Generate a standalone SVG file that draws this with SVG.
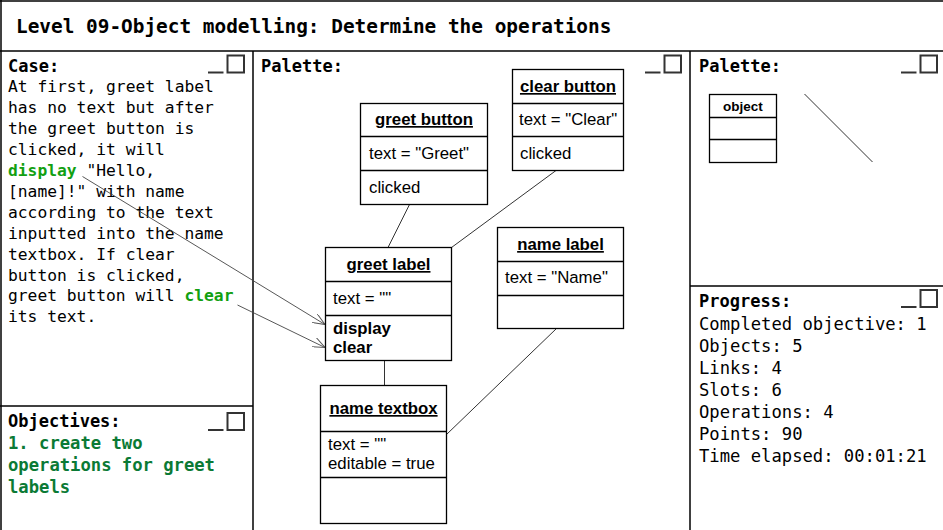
<svg xmlns="http://www.w3.org/2000/svg" xmlns:xlink="http://www.w3.org/1999/xlink" width="943" height="530" viewBox="0 0 943 530">
<style>
.frame{fill:none;stroke:#000;stroke-width:1.5}
.mono{font-family:"DejaVu Sans Mono","Liberation Mono",monospace;fill:#000}
.title{font-size:19.4px;font-weight:bold}
.head{font-size:17px;font-weight:bold}
.case{font-size:16.3px}
.prog{font-size:17.2px}
.obj{font-size:17.2px;font-weight:bold;fill:#0b7a35}
.hl{font-weight:bold;fill:#12a012}
.box{fill:#fff;stroke:#000;stroke-width:1.3}
.div{stroke:#000;stroke-width:1.3}
.sans{font-family:"Liberation Sans",Arial,sans-serif;font-size:16.8px;fill:#000}
.bt{font-weight:bold;text-decoration:underline}
.b{font-weight:bold}
.link{stroke:#333;stroke-width:1;fill:none}
.arrow{stroke:#444;stroke-width:0.9;fill:none}
.icon{fill:none;stroke:#333;stroke-width:2}
</style>
<defs>
<marker id="open" viewBox="0 0 12 10" refX="12" refY="5" markerWidth="12" markerHeight="10" markerUnits="userSpaceOnUse" orient="auto">
<path d="M0,0 L12,5 L0,10" fill="none" stroke="#555" stroke-width="1"/>
</marker>
<g id="minmax">
<line x1="-45" y1="17" x2="-29.5" y2="17" class="icon"/>
<rect x="-25.5" y="0" width="16.5" height="17" class="icon"/>
</g>
</defs>
<rect width="943" height="530" fill="#fff"/>
<g id="frames">
<line x1="0" y1="1" x2="943" y2="1" class="frame"/>
<line x1="1" y1="0" x2="1" y2="530" class="frame"/>
<line x1="0" y1="51" x2="943" y2="51" class="frame"/>
<line x1="253" y1="51" x2="253" y2="530" class="frame"/>
<line x1="690" y1="51" x2="690" y2="530" class="frame"/>
<line x1="0" y1="406" x2="253" y2="406" class="frame"/>
<line x1="690" y1="286" x2="943" y2="286" class="frame"/>
</g>
<text x="16" y="33" class="mono title">Level 09-Object modelling: Determine the operations</text>
<g id="case-panel">
<text x="8" y="72" class="mono head">Case:</text>
<use xlink:href="#minmax" x="253" y="55.5"/>
<text class="mono case">
<tspan x="8" y="92">At first, greet label</tspan>
<tspan x="8" y="113">has no text but after</tspan>
<tspan x="8" y="134">the greet button is</tspan>
<tspan x="8" y="155">clicked, it will</tspan>
<tspan x="8" y="176"><tspan class="hl">display</tspan> "Hello,</tspan>
<tspan x="8" y="197">[name]!" with name</tspan>
<tspan x="8" y="217.5">according to the text</tspan>
<tspan x="8" y="238.5">inputted into the name</tspan>
<tspan x="8" y="259.5">textbox. If clear</tspan>
<tspan x="8" y="280.5">button is clicked,</tspan>
<tspan x="8" y="301">greet button will <tspan class="hl">clear</tspan></tspan>
<tspan x="8" y="322">its text.</tspan>
</text>
</g>
<g id="objectives-panel">
<text x="8" y="427" class="mono head">Objectives:</text>
<use xlink:href="#minmax" x="253" y="413"/>
<text class="mono obj">
<tspan x="8" y="449">1. create two</tspan>
<tspan x="8" y="471">operations for greet</tspan>
<tspan x="8" y="493">labels</tspan>
</text>
</g>
<g id="palette-panel">
<text x="261" y="72" class="mono head">Palette:</text>
<use xlink:href="#minmax" x="690" y="55.5"/>
</g>
<g id="tool-palette">
<text x="699" y="72" class="mono head">Palette:</text>
<use xlink:href="#minmax" x="946" y="55.5"/>
<rect x="709.5" y="94.5" width="67" height="68" class="box"/>
<line x1="709.5" y1="117.5" x2="776.5" y2="117.5" class="div"/>
<line x1="709.5" y1="139.5" x2="776.5" y2="139.5" class="div"/>
<text x="743" y="111" text-anchor="middle" font-family="Liberation Sans, Arial, sans-serif" font-size="13.5" font-weight="bold">object</text>
<line x1="804.5" y1="94" x2="872.5" y2="162" stroke="#333" stroke-width="1"/>
</g>
<g id="progress-panel">
<text x="699" y="307" class="mono head">Progress:</text>
<use xlink:href="#minmax" x="946" y="290"/>
<text class="mono prog">
<tspan x="699" y="330">Completed objective: 1</tspan>
<tspan x="699" y="352">Objects: 5</tspan>
<tspan x="699" y="374">Links: 4</tspan>
<tspan x="699" y="396">Slots: 6</tspan>
<tspan x="699" y="418">Operations: 4</tspan>
<tspan x="699" y="440">Points: 90</tspan>
<tspan x="699" y="462">Time elapsed: 00:01:21</tspan>
</text>
</g>
<g id="connectors">
<line x1="409.5" y1="204.5" x2="388" y2="247.5" class="link"/>
<line x1="556" y1="170.5" x2="451.5" y2="247.5" class="link"/>
<line x1="384.5" y1="360.5" x2="384.5" y2="385.5" class="link"/>
<line x1="556.5" y1="328.5" x2="446.5" y2="434.5" class="link"/>
<line x1="82.5" y1="176.5" x2="325" y2="324.5" class="arrow" marker-end="url(#open)"/>
<line x1="237.5" y1="305" x2="325" y2="347.5" class="arrow" marker-end="url(#open)"/>
</g>
<g id="greet-button">
<rect x="360.5" y="103.5" width="127" height="101" class="box"/>
<line x1="360.5" y1="136.5" x2="487.5" y2="136.5" class="div"/>
<line x1="360.5" y1="170.5" x2="487.5" y2="170.5" class="div"/>
<text x="424" y="125" text-anchor="middle" class="sans bt">greet button</text>
<text x="369" y="159" class="sans">text = "Greet"</text>
<text x="369" y="193" class="sans">clicked</text>
</g>
<g id="clear-button">
<rect x="512.5" y="69.5" width="111" height="101" class="box"/>
<line x1="512.5" y1="103.5" x2="623.5" y2="103.5" class="div"/>
<line x1="512.5" y1="136.5" x2="623.5" y2="136.5" class="div"/>
<text x="568" y="92" text-anchor="middle" class="sans bt">clear button</text>
<text x="519" y="125" class="sans">text = "Clear"</text>
<text x="520" y="159" class="sans">clicked</text>
</g>
<g id="greet-label">
<rect x="325.5" y="247.5" width="126" height="113" class="box"/>
<line x1="325.5" y1="281.5" x2="451.5" y2="281.5" class="div"/>
<line x1="325.5" y1="315.5" x2="451.5" y2="315.5" class="div"/>
<text x="388.5" y="270" text-anchor="middle" class="sans bt">greet label</text>
<text x="333" y="303.5" class="sans">text = ""</text>
<text x="333" y="334" class="sans b">display</text>
<text x="333" y="353" class="sans b">clear</text>
</g>
<g id="name-label">
<rect x="497.5" y="227.5" width="126" height="101" class="box"/>
<line x1="497.5" y1="261.5" x2="623.5" y2="261.5" class="div"/>
<line x1="497.5" y1="295.5" x2="623.5" y2="295.5" class="div"/>
<text x="560.5" y="250" text-anchor="middle" class="sans bt">name label</text>
<text x="505" y="283" class="sans">text = "Name"</text>
</g>
<g id="name-textbox">
<rect x="320.5" y="385.5" width="126" height="138" class="box"/>
<line x1="320.5" y1="431.5" x2="446.5" y2="431.5" class="div"/>
<line x1="320.5" y1="477.5" x2="446.5" y2="477.5" class="div"/>
<text x="383.5" y="414" text-anchor="middle" class="sans bt">name textbox</text>
<text x="328" y="450" class="sans">text = ""</text>
<text x="328" y="468.5" class="sans">editable = true</text>
</g>
</svg>
